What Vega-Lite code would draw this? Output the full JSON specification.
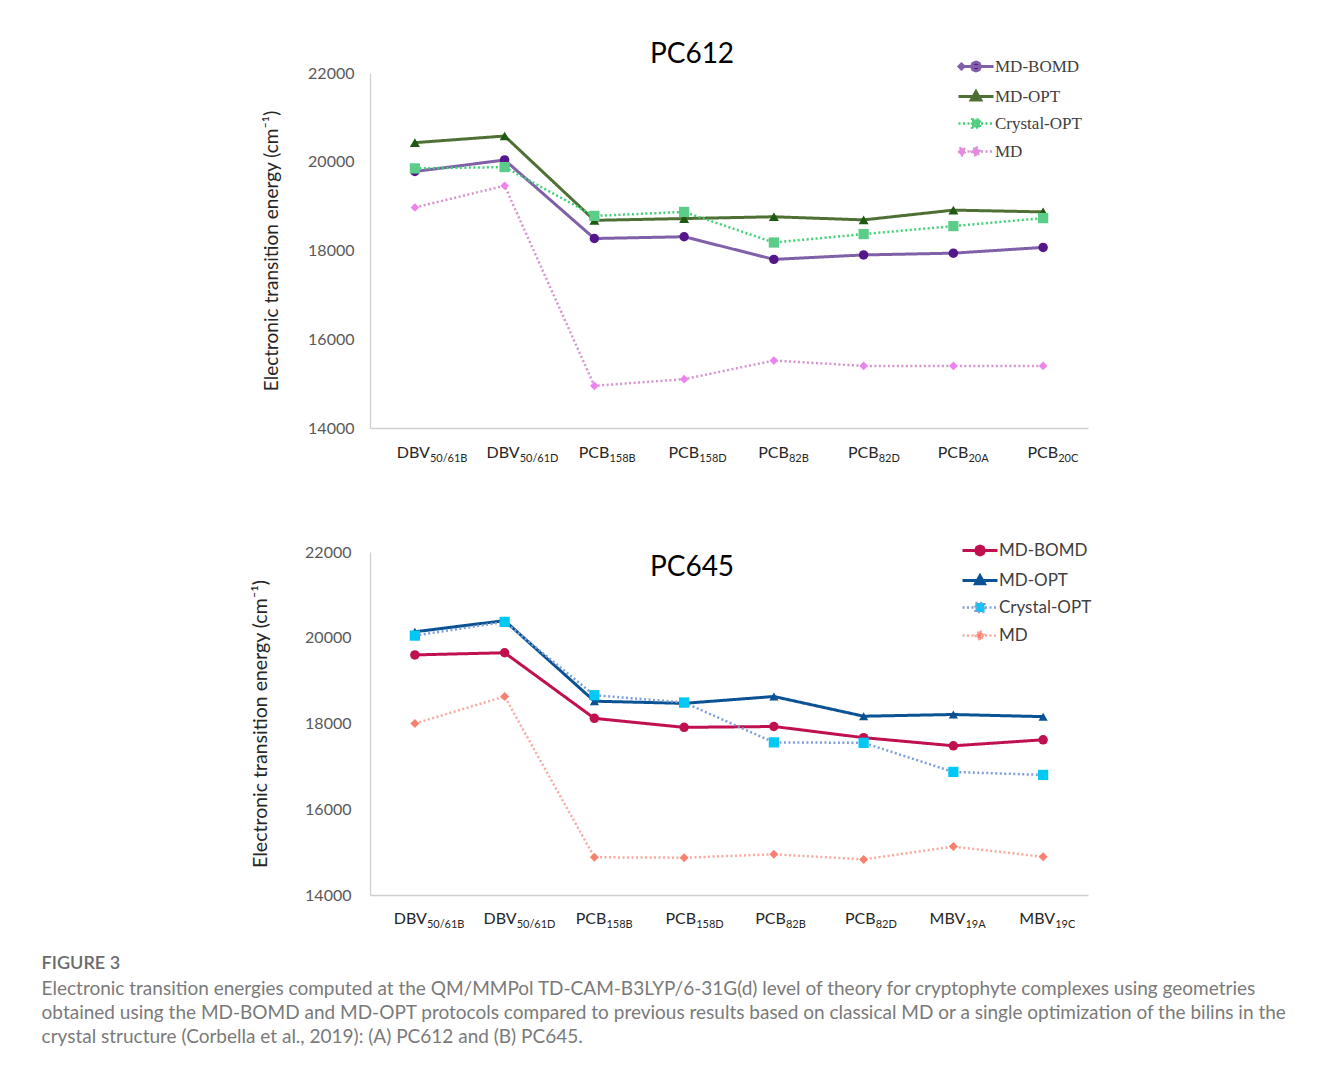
{
  "$schema": "https://vega.github.io/schema/vega-lite/v6.json",
  "background": "white",
  "padding": {"left": 41, "top": 41, "right": 10, "bottom": 10},
  "config": {"view": {"stroke": null}, "font": "Lato"},
  "datasets": {
    "pc612": [
      {"s": "MD-BOMD", "c": "DBV50/61B", "m": "DBV", "b": "50/61B", "v": 19780},
      {"s": "MD-BOMD", "c": "DBV50/61D", "m": "DBV", "b": "50/61D", "v": 20040},
      {"s": "MD-BOMD", "c": "PCB158B", "m": "PCB", "b": "158B", "v": 18270},
      {"s": "MD-BOMD", "c": "PCB158D", "m": "PCB", "b": "158D", "v": 18310},
      {"s": "MD-BOMD", "c": "PCB82B", "m": "PCB", "b": "82B", "v": 17800},
      {"s": "MD-BOMD", "c": "PCB82D", "m": "PCB", "b": "82D", "v": 17900},
      {"s": "MD-BOMD", "c": "PCB20A", "m": "PCB", "b": "20A", "v": 17940},
      {"s": "MD-BOMD", "c": "PCB20C", "m": "PCB", "b": "20C", "v": 18070},
      {"s": "MD-OPT", "c": "DBV50/61B", "m": "DBV", "b": "50/61B", "v": 20430},
      {"s": "MD-OPT", "c": "DBV50/61D", "m": "DBV", "b": "50/61D", "v": 20580},
      {"s": "MD-OPT", "c": "PCB158B", "m": "PCB", "b": "158B", "v": 18680},
      {"s": "MD-OPT", "c": "PCB158D", "m": "PCB", "b": "158D", "v": 18720},
      {"s": "MD-OPT", "c": "PCB82B", "m": "PCB", "b": "82B", "v": 18760},
      {"s": "MD-OPT", "c": "PCB82D", "m": "PCB", "b": "82D", "v": 18690},
      {"s": "MD-OPT", "c": "PCB20A", "m": "PCB", "b": "20A", "v": 18910},
      {"s": "MD-OPT", "c": "PCB20C", "m": "PCB", "b": "20C", "v": 18870},
      {"s": "Crystal-OPT", "c": "DBV50/61B", "m": "DBV", "b": "50/61B", "v": 19850},
      {"s": "Crystal-OPT", "c": "DBV50/61D", "m": "DBV", "b": "50/61D", "v": 19880},
      {"s": "Crystal-OPT", "c": "PCB158B", "m": "PCB", "b": "158B", "v": 18780},
      {"s": "Crystal-OPT", "c": "PCB158D", "m": "PCB", "b": "158D", "v": 18870},
      {"s": "Crystal-OPT", "c": "PCB82B", "m": "PCB", "b": "82B", "v": 18180},
      {"s": "Crystal-OPT", "c": "PCB82D", "m": "PCB", "b": "82D", "v": 18370},
      {"s": "Crystal-OPT", "c": "PCB20A", "m": "PCB", "b": "20A", "v": 18550},
      {"s": "Crystal-OPT", "c": "PCB20C", "m": "PCB", "b": "20C", "v": 18730},
      {"s": "MD", "c": "DBV50/61B", "m": "DBV", "b": "50/61B", "v": 18970},
      {"s": "MD", "c": "DBV50/61D", "m": "DBV", "b": "50/61D", "v": 19460},
      {"s": "MD", "c": "PCB158B", "m": "PCB", "b": "158B", "v": 14950},
      {"s": "MD", "c": "PCB158D", "m": "PCB", "b": "158D", "v": 15100},
      {"s": "MD", "c": "PCB82B", "m": "PCB", "b": "82B", "v": 15520},
      {"s": "MD", "c": "PCB82D", "m": "PCB", "b": "82D", "v": 15400},
      {"s": "MD", "c": "PCB20A", "m": "PCB", "b": "20A", "v": 15400},
      {"s": "MD", "c": "PCB20C", "m": "PCB", "b": "20C", "v": 15400}
    ],
    "pc645": [
      {"s": "MD-BOMD", "c": "DBV50/61B", "m": "DBV", "b": "50/61B", "v": 19600},
      {"s": "MD-BOMD", "c": "DBV50/61D", "m": "DBV", "b": "50/61D", "v": 19650},
      {"s": "MD-BOMD", "c": "PCB158B", "m": "PCB", "b": "158B", "v": 18120},
      {"s": "MD-BOMD", "c": "PCB158D", "m": "PCB", "b": "158D", "v": 17910},
      {"s": "MD-BOMD", "c": "PCB82B", "m": "PCB", "b": "82B", "v": 17930},
      {"s": "MD-BOMD", "c": "PCB82D", "m": "PCB", "b": "82D", "v": 17670},
      {"s": "MD-BOMD", "c": "MBV19A", "m": "MBV", "b": "19A", "v": 17480},
      {"s": "MD-BOMD", "c": "MBV19C", "m": "MBV", "b": "19C", "v": 17620},
      {"s": "MD-OPT", "c": "DBV50/61B", "m": "DBV", "b": "50/61B", "v": 20140},
      {"s": "MD-OPT", "c": "DBV50/61D", "m": "DBV", "b": "50/61D", "v": 20400},
      {"s": "MD-OPT", "c": "PCB158B", "m": "PCB", "b": "158B", "v": 18520},
      {"s": "MD-OPT", "c": "PCB158D", "m": "PCB", "b": "158D", "v": 18470},
      {"s": "MD-OPT", "c": "PCB82B", "m": "PCB", "b": "82B", "v": 18630},
      {"s": "MD-OPT", "c": "PCB82D", "m": "PCB", "b": "82D", "v": 18170},
      {"s": "MD-OPT", "c": "MBV19A", "m": "MBV", "b": "19A", "v": 18210},
      {"s": "MD-OPT", "c": "MBV19C", "m": "MBV", "b": "19C", "v": 18160},
      {"s": "Crystal-OPT", "c": "DBV50/61B", "m": "DBV", "b": "50/61B", "v": 20050},
      {"s": "Crystal-OPT", "c": "DBV50/61D", "m": "DBV", "b": "50/61D", "v": 20370},
      {"s": "Crystal-OPT", "c": "PCB158B", "m": "PCB", "b": "158B", "v": 18660},
      {"s": "Crystal-OPT", "c": "PCB158D", "m": "PCB", "b": "158D", "v": 18490},
      {"s": "Crystal-OPT", "c": "PCB82B", "m": "PCB", "b": "82B", "v": 17560},
      {"s": "Crystal-OPT", "c": "PCB82D", "m": "PCB", "b": "82D", "v": 17550},
      {"s": "Crystal-OPT", "c": "MBV19A", "m": "MBV", "b": "19A", "v": 16870},
      {"s": "Crystal-OPT", "c": "MBV19C", "m": "MBV", "b": "19C", "v": 16800},
      {"s": "MD", "c": "DBV50/61B", "m": "DBV", "b": "50/61B", "v": 18000},
      {"s": "MD", "c": "DBV50/61D", "m": "DBV", "b": "50/61D", "v": 18630},
      {"s": "MD", "c": "PCB158B", "m": "PCB", "b": "158B", "v": 14880},
      {"s": "MD", "c": "PCB158D", "m": "PCB", "b": "158D", "v": 14870},
      {"s": "MD", "c": "PCB82B", "m": "PCB", "b": "82B", "v": 14950},
      {"s": "MD", "c": "PCB82D", "m": "PCB", "b": "82D", "v": 14830},
      {"s": "MD", "c": "MBV19A", "m": "MBV", "b": "19A", "v": 15130},
      {"s": "MD", "c": "MBV19C", "m": "MBV", "b": "19C", "v": 14890}
    ]
  },
  "title": {
    "text": "FIGURE 3",
    "subtitle": [
      "Electronic transition energies computed at the QM/MMPol TD-CAM-B3LYP/6-31G(d) level of theory for cryptophyte complexes using geometries",
      "obtained using the MD-BOMD and MD-OPT protocols compared to previous results based on classical MD or a single optimization of the bilins in the",
      "crystal structure (Corbella et al., 2019): (A) PC612 and (B) PC645."
    ],
    "orient": "bottom",
    "anchor": "start",
    "frame": "bounds",
    "dx": -209,
    "offset": 25,
    "font": "Lato",
    "fontSize": 18,
    "fontWeight": 600,
    "color": "#6b6b6b",
    "subtitleFont": "Lato",
    "subtitleFontSize": 19,
    "subtitleColor": "#7a7a7a",
    "subtitleLineHeight": 24,
    "subtitlePadding": 7
  },
  "spacing": 78,
  "resolve": {
    "scale": {"x": "independent", "y": "independent", "stroke": "independent", "strokeDash": "independent", "strokeWidth": "independent"},
    "legend": {"stroke": "independent"},
    "axis": {"x": "independent", "y": "independent"}
  },
  "vconcat": [
    {
      "width": 718,
      "height": 355,
      "title": {"text": "PC612", "font": "Lato", "fontSize": 28, "fontWeight": "normal", "color": "#000000", "anchor": "middle", "dx": -37, "offset": -33, "baseline": "alphabetic"},
      "data": {"name": "pc612"},
      "encoding": {
        "x": {"field": "c", "type": "nominal", "scale": {"type": "point", "padding": 0.5, "domain": ["DBV50/61B", "DBV50/61D", "PCB158B", "PCB158D", "PCB82B", "PCB82D", "PCB20A", "PCB20C"]}, "axis": {"labels": false, "ticks": false, "title": null, "grid": false, "domainColor": "#d0d0d0", "domainWidth": 1.3}},
        "y": {"field": "v", "type": "quantitative", "scale": {"domain": [14000, 22000], "nice": false, "zero": false}, "axis": {"values": [14000, 16000, 18000, 20000, 22000], "format": "d", "ticks": false, "grid": false, "domainColor": "#d0d0d0", "domainWidth": 1.3, "labelFont": "Lato", "labelFontSize": 16, "labelColor": "#595959", "labelPadding": 16, "title": "Electronic transition energy (cm⁻¹)", "titleFont": "Lato", "titleFontSize": 19, "titleFontWeight": "normal", "titleColor": "#262626", "titlePadding": 26}}
      },
      "layer": [
        {
          "mark": {"type": "line", "strokeCap": "butt"},
          "encoding": {
            "stroke": {"field": "s", "type": "nominal", "scale": {"domain": ["MD-BOMD", "MD-OPT", "Crystal-OPT", "MD"], "range": ["#8060a8", "#4f7035", "#3fd176", "#d495cf"]},
              "legend": {
                "orient": "none", "legendX": 585, "legendY": -15, "title": null, "padding": 0,
                "labelFont": "Liberation Serif", "labelFontSize": 17, "labelColor": "#404040",
                "symbolSize": 100, "labelOffset": 23, "rowPadding": 8,
                "encode": {"symbols": {"update": {
                  "shape": {"signal": "datum.value === 'MD-BOMD' ? 'M-1,0H6M-0.4,-0.5L0.1,0L-0.4,0.5L-0.9,0ZM3.4,0L3.14,0.64L2.5,0.9L1.86,0.64L1.6,0L1.86,-0.64L2.5,-0.9L3.14,-0.64Z' : datum.value === 'MD-OPT' ? 'M-1,0H6M2.5,-1L3.45,0.7L1.55,0.7Z' : datum.value === 'Crystal-OPT' ? 'M-1,0H6M1.7,-0.8H3.3V0.8H1.7Z' : 'M-1,0H6M0.3,0L0.13,0.57L-0.3,0.8L-0.73,0.57L-0.9,0L-0.73,-0.57L-0.3,-0.8L0.13,-0.57ZM2.5,-0.95L3.4,0L2.5,0.95L1.6,0Z'"},
                  "fill": {"signal": "datum.value === 'MD-BOMD' ? '#55168c' : datum.value === 'MD-OPT' ? '#1e5a12' : datum.value === 'Crystal-OPT' ? '#5ccd88' : '#ee82ee'"},
                  "strokeDash": {"signal": "datum.value === 'Crystal-OPT' || datum.value === 'MD' ? [2, 2.5] : [1, 0]"},
                  "strokeWidth": {"value": 2.5},
                  "size": {"value": 100},
                  "opacity": {"value": 1}
                }}}
              }
            },
            "strokeDash": {"field": "s", "type": "nominal", "scale": {"domain": ["MD-BOMD", "MD-OPT", "Crystal-OPT", "MD"], "range": [[1, 0], [1, 0], [2, 2.5], [2, 2.5]]}, "legend": null},
            "strokeWidth": {"field": "s", "type": "nominal", "scale": {"type": "ordinal", "domain": ["MD-BOMD", "MD-OPT", "Crystal-OPT", "MD"], "range": [3, 3, 2.5, 2.5]}, "legend": null}
          }
        },
        {"transform": [{"filter": "datum.s === 'MD-BOMD'"}], "mark": {"type": "point", "shape": "circle", "filled": true, "color": "#55168c", "size": 90, "opacity": 1, "strokeWidth": 0}},
        {"transform": [{"filter": "datum.s === 'MD-OPT'"}], "mark": {"type": "point", "shape": "triangle-up", "filled": true, "color": "#1e5a12", "size": 100, "opacity": 1, "strokeWidth": 0}},
        {"transform": [{"filter": "datum.s === 'Crystal-OPT'"}], "mark": {"type": "point", "shape": "square", "filled": true, "color": "#5ccd88", "size": 105, "opacity": 1, "strokeWidth": 0}},
        {"transform": [{"filter": "datum.s === 'MD'"}], "mark": {"type": "point", "shape": "diamond", "filled": true, "color": "#ee82ee", "size": 75, "opacity": 1, "strokeWidth": 0}},
        {
          "transform": [{"filter": "datum.s === 'MD-BOMD'"}],
          "mark": {"type": "text", "align": "right", "baseline": "alphabetic", "dx": 15, "dy": 30, "font": "Lato", "fontSize": 16, "color": "#262626"},
          "encoding": {"y": {"datum": 14000, "type": "quantitative"}, "text": {"field": "m"}}
        },
        {
          "transform": [{"filter": "datum.s === 'MD-BOMD'"}],
          "mark": {"type": "text", "align": "left", "baseline": "alphabetic", "dx": 15, "dy": 34, "font": "Lato", "fontSize": 11, "color": "#262626"},
          "encoding": {"y": {"datum": 14000, "type": "quantitative"}, "text": {"field": "b"}}
        }
      ]
    },
    {
      "width": 718,
      "height": 343,
      "title": {"text": "PC645", "font": "Lato", "fontSize": 28, "fontWeight": "normal", "color": "#000000", "anchor": "middle", "dx": -37, "offset": -62, "baseline": "alphabetic"},
      "data": {"name": "pc645"},
      "encoding": {
        "x": {"field": "c", "type": "nominal", "scale": {"type": "point", "padding": 0.5, "domain": ["DBV50/61B", "DBV50/61D", "PCB158B", "PCB158D", "PCB82B", "PCB82D", "MBV19A", "MBV19C"]}, "axis": {"labels": false, "ticks": false, "title": null, "grid": false, "domainColor": "#d0d0d0", "domainWidth": 1.3}},
        "y": {"field": "v", "type": "quantitative", "scale": {"domain": [14000, 22000], "nice": false, "zero": false}, "axis": {"values": [14000, 16000, 18000, 20000, 22000], "format": "d", "ticks": false, "grid": false, "domainColor": "#d0d0d0", "domainWidth": 1.3, "labelFont": "Lato", "labelFontSize": 16, "labelColor": "#595959", "labelPadding": 19, "title": "Electronic transition energy (cm⁻¹)", "titleFont": "Lato", "titleFontSize": 19.5, "titleFontWeight": "normal", "titleColor": "#262626", "titlePadding": 34}}
      },
      "layer": [
        {
          "mark": {"type": "line", "strokeCap": "butt"},
          "encoding": {
            "stroke": {"field": "s", "type": "nominal", "scale": {"domain": ["MD-BOMD", "MD-OPT", "Crystal-OPT", "MD"], "range": ["#c0104f", "#0b5294", "#7f9fd8", "#f9a9a0"]},
              "legend": {
                "orient": "none", "legendX": 589, "legendY": -10, "title": null, "padding": 0,
                "labelFont": "Lato", "labelFontSize": 17, "labelColor": "#404040",
                "symbolSize": 100, "labelOffset": 23, "rowPadding": 8,
                "encode": {"symbols": {"update": {
                  "shape": {"signal": "datum.value === 'MD-BOMD' ? 'M-1,0H6M3.4,0L3.14,0.64L2.5,0.9L1.86,0.64L1.6,0L1.86,-0.64L2.5,-0.9L3.14,-0.64Z' : datum.value === 'MD-OPT' ? 'M-1,0H6M2.5,-0.95L3.4,0.65L1.6,0.65Z' : datum.value === 'Crystal-OPT' ? 'M-1,0H6M1.6,-0.9H3.4V0.9H1.6Z' : 'M-1,0H6M2.5,-0.95L3.4,0L2.5,0.95L1.6,0Z'"},
                  "fill": {"signal": "datum.value === 'MD-BOMD' ? '#c0104f' : datum.value === 'MD-OPT' ? '#0b5294' : datum.value === 'Crystal-OPT' ? '#00c8f5' : '#f88070'"},
                  "strokeDash": {"signal": "datum.value === 'Crystal-OPT' || datum.value === 'MD' ? [2, 2.5] : [1, 0]"},
                  "strokeWidth": {"value": 2.8},
                  "size": {"value": 100},
                  "opacity": {"value": 1}
                }}}
              }
            },
            "strokeDash": {"field": "s", "type": "nominal", "scale": {"domain": ["MD-BOMD", "MD-OPT", "Crystal-OPT", "MD"], "range": [[1, 0], [1, 0], [2, 2.5], [2, 2.5]]}, "legend": null},
            "strokeWidth": {"field": "s", "type": "nominal", "scale": {"type": "ordinal", "domain": ["MD-BOMD", "MD-OPT", "Crystal-OPT", "MD"], "range": [3, 3, 2.5, 2.5]}, "legend": null}
          }
        },
        {"transform": [{"filter": "datum.s === 'MD-BOMD'"}], "mark": {"type": "point", "shape": "circle", "filled": true, "color": "#c0104f", "size": 90, "opacity": 1, "strokeWidth": 0}},
        {"transform": [{"filter": "datum.s === 'MD-OPT'"}], "mark": {"type": "point", "shape": "triangle-up", "filled": true, "color": "#0b5294", "size": 85, "opacity": 1, "strokeWidth": 0}},
        {"transform": [{"filter": "datum.s === 'Crystal-OPT'"}], "mark": {"type": "point", "shape": "square", "filled": true, "color": "#00c8f5", "size": 105, "opacity": 1, "strokeWidth": 0}},
        {"transform": [{"filter": "datum.s === 'MD'"}], "mark": {"type": "point", "shape": "diamond", "filled": true, "color": "#f88070", "size": 80, "opacity": 1, "strokeWidth": 0}},
        {
          "transform": [{"filter": "datum.s === 'MD-BOMD'"}],
          "mark": {"type": "text", "align": "right", "baseline": "alphabetic", "dx": 12, "dy": 29, "font": "Lato", "fontSize": 16, "color": "#262626"},
          "encoding": {"y": {"datum": 14000, "type": "quantitative"}, "text": {"field": "m"}}
        },
        {
          "transform": [{"filter": "datum.s === 'MD-BOMD'"}],
          "mark": {"type": "text", "align": "left", "baseline": "alphabetic", "dx": 12, "dy": 33, "font": "Lato", "fontSize": 11, "color": "#262626"},
          "encoding": {"y": {"datum": 14000, "type": "quantitative"}, "text": {"field": "b"}}
        }
      ]
    }
  ]
}
